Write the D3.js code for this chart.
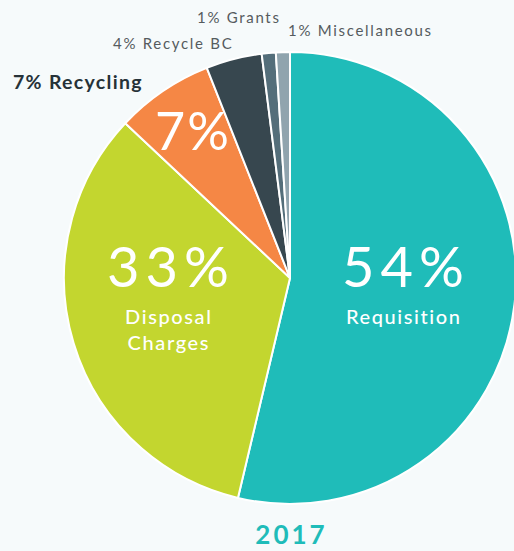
<!DOCTYPE html>
<html>
<head>
<meta charset="utf-8">
<script src="https://cdn.jsdelivr.net/npm/d3@7"></script>
<style>
  html, body { margin: 0; padding: 0; background: #f6fafb; }
  svg { display: block; font-family: "Lato", "Open Sans", sans-serif; }
</style>
</head>
<body>
<svg id="chart"></svg>
<script>
let categories = ["Requisition", "Disposal Charges", "Recycling", "Recycle BC", "Grants", "Miscellaneous"]
let values = [53.7, 33.3, 7.0, 4.0, 1.0, 1.0]
let percentLabels = ["54%", "33%", "7%", "4%", "1%", "1%"]
let colors = ["#1fbcb9", "#c3d62f", "#f58745", "#37474f", "#546e7a", "#90a4ae"]
let year = "2017"

let width = 514
let height = 551
let cx = 290
let cy = 278
let radius = 226

let svg = d3.select("#chart")
  .attr("width", width)
  .attr("height", height)

let g = svg.append("g")
  .attr("transform", "translate(" + cx + "," + cy + ")")

let pie = d3.pie().sort(null).value((d) => d)
let arcs = pie(values)

let arc = d3.arc().innerRadius(0).outerRadius(radius)

g.selectAll("path")
  .data(arcs)
  .enter()
  .append("path")
  .attr("d", arc)
  .attr("fill", (d, i) => colors[i])
  .attr("stroke", "#ffffff")
  .attr("stroke-width", 2)
  .attr("stroke-linejoin", "round")

// big labels inside the three large slices
let inside = [
  { i: 0, x: 113, y: 9, size: 56, ls: 6, sub: ["Requisition"] },
  { i: 1, x: -122, y: 9, size: 56, ls: 6, sub: ["Disposal", "Charges"] },
  { i: 2, x: -98, y: -128, size: 52, ls: 2, sub: [] }
]

inside.forEach((o) => {
  g.append("text")
    .attr("x", o.x + o.ls / 2)
    .attr("y", o.y)
    .attr("text-anchor", "middle")
    .attr("fill", "#ffffff")
    .style("font-size", o.size + "px")
    .style("font-weight", 400)
    .style("letter-spacing", o.ls + "px")
    .text(percentLabels[o.i])

  o.sub.forEach((s, k) => {
    g.append("text")
      .attr("x", o.x + 0.8)
      .attr("y", 46 + k * 26)
      .attr("text-anchor", "middle")
      .attr("fill", "#ffffff")
      .style("font-size", "20px")
      .style("font-weight", 500)
      .style("letter-spacing", "1.6px")
      .text(s)
  })
})

// outside labels
svg.append("text")
  .attr("x", 13)
  .attr("y", 89)
  .attr("fill", "#263238")
  .style("font-size", "19.5px")
  .style("font-weight", 700)
  .style("letter-spacing", "1.3px")
  .text(percentLabels[2] + " " + categories[2])

let small = [
  { i: 3, x: 113, y: 49 },
  { i: 4, x: 197, y: 23 },
  { i: 5, x: 288, y: 36 }
]

small.forEach((o) => {
  svg.append("text")
    .attr("x", o.x)
    .attr("y", o.y)
    .attr("fill", "#555b5e")
    .style("font-size", "15px")
    .style("letter-spacing", "1.7px")
    .text(percentLabels[o.i] + " " + categories[o.i])
})

svg.append("text")
  .attr("x", cx + 1.5)
  .attr("y", 544)
  .attr("text-anchor", "middle")
  .attr("fill", "#1fbcb9")
  .style("font-size", "26px")
  .style("font-weight", 700)
  .style("letter-spacing", "3px")
  .text(year)
</script>
</body>
</html>
